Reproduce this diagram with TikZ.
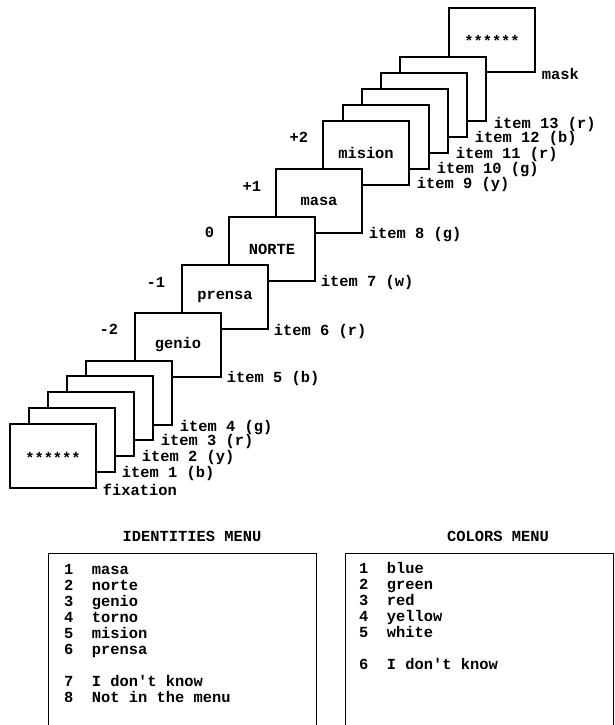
\documentclass[tikz,border=0pt]{standalone}
\usepackage{fontspec}
\setmonofont{Liberation Mono}
\usetikzlibrary{calc}
\tikzset{
  txt/.style={font=\ttfamily\bfseries\fontsize{15.4}{16}\selectfont, inner sep=0pt},
  frame/.style={txt, draw, fill=white, line width=1.3pt, minimum width=86pt, minimum height=64pt},
  lbl/.style={txt, anchor=west},
  num/.style={txt, anchor=east},
  menubox/.style={draw, line width=1.3pt, minimum width=268pt, minimum height=230pt, anchor=north west, inner sep=0pt},
  menuline/.style={txt, anchor=base west},
  menutitle/.style={txt, anchor=base}
}
\newcommand{\stars}{\raisebox{-7pt}[0pt][0pt]{******}}
\begin{document}
\begin{tikzpicture}[x=1pt,y=-1pt]
\useasboundingbox (0,0) rectangle (615,725);
% frames, back to front
\node[frame] (mask) at (492,40) {\stars};
\node[frame] (f13) at (443,89) {};
\node[frame] (f12) at (424,105) {};
\node[frame] (f11) at (405,121) {};
\node[frame] (f10) at (386,137) {};
\node[frame] (f9) at (366,153) {mision};
\node[frame] (f8) at (319,201) {masa};
\node[frame] (f7) at (272,249) {NORTE};
\node[frame] (f6) at (225,297) {prensa};
\node[frame] (f5) at (178,345) {genio};
\node[frame] (f4) at (129,393) {};
\node[frame] (f3) at (110,408) {};
\node[frame] (f2) at (91,424) {};
\node[frame] (f1) at (72,440) {};
\node[frame] (fix) at (53,456) {\stars};
% item labels
\node[lbl] (lmask) at ($(mask.south east)+(6,1)$) {mask};
\node[lbl] (l13) at ($(f13.south east)+(7,3)$) {item 13 (r)};
\node[lbl] (l12) at ($(f12.south east)+(7,1)$) {item 12 (b)};
\node[lbl] (l11) at ($(f11.south east)+(7,1)$) {item 11 (r)};
\node[lbl] (l10) at ($(f10.south east)+(7,0)$) {item 10 (g)};
\node[lbl] (l9) at ($(f9.south east)+(7,-1)$) {item 9 (y)};
\node[lbl] (l8) at ($(f8.south east)+(6,1)$) {item 8 (g)};
\node[lbl] (l7) at ($(f7.south east)+(5,1)$) {item 7 (w)};
\node[lbl] (l6) at ($(f6.south east)+(5,2)$) {item 6 (r)};
\node[lbl] (l5) at ($(f5.south east)+(5,1)$) {item 5 (b)};
\node[lbl] (l4) at ($(f4.south east)+(7,2)$) {item 4 (g)};
\node[lbl] (l3) at ($(f3.south east)+(7,1)$) {item 3 (r)};
\node[lbl] (l2) at ($(f2.south east)+(7,1)$) {item 2 (y)};
\node[lbl] (l1) at ($(f1.south east)+(6,1)$) {item 1 (b)};
\node[lbl] (lfix) at ($(fix.south east)+(6,1)$) {fixation};
% position numbers
\node[num] (n9) at ($(f9.north west)+(-14,17)$) {+2};
\node[num] (n8) at ($(f8.north west)+(-14,18)$) {+1};
\node[num] (n7) at ($(f7.north west)+(-14,16)$) {0};
\node[num] (n6) at ($(f6.north west)+(-16,18)$) {-1};
\node[num] (n5) at ($(f5.north west)+(-16,17)$) {-2};
% menus
\node[menutitle] (idtitle) at (192,541) {IDENTITIES MENU};
\node[menutitle] (coltitle) at (498,541) {COLORS MENU};
\node[menubox] (idbox) at (48,553) {};
\node[menubox] (colbox) at (345,553) {};
\node[menuline] (id1) at (64,574) {1\ \ masa};
\node[menuline] (id2) at (64,590) {2\ \ norte};
\node[menuline] (id3) at (64,606) {3\ \ genio};
\node[menuline] (id4) at (64,622) {4\ \ torno};
\node[menuline] (id5) at (64,638) {5\ \ mision};
\node[menuline] (id6) at (64,654) {6\ \ prensa};
\node[menuline] (id7) at (64,686) {7\ \ I don't know};
\node[menuline] (id8) at (64,702) {8\ \ Not in the menu};
\node[menuline] (c1) at (359,573) {1\ \ blue};
\node[menuline] (c2) at (359,589) {2\ \ green};
\node[menuline] (c3) at (359,605) {3\ \ red};
\node[menuline] (c4) at (359,621) {4\ \ yellow};
\node[menuline] (c5) at (359,637) {5\ \ white};
\node[menuline] (c6) at (359,669) {6\ \ I don't know};
\end{tikzpicture}
\end{document}
